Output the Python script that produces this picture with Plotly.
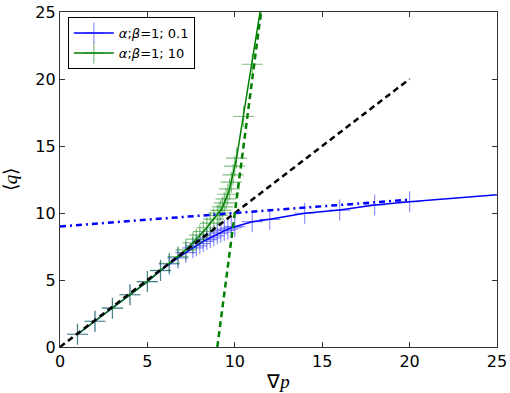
#!/usr/bin/env python3

import plotly.graph_objects as go

OUTPUT_PATH = "out.html"

# series beta = 0.1 (blue)
blue_x = [1, 2, 3, 4, 5, 5.75, 6.25, 6.75, 7.2, 7.6, 7.8, 8.0, 8.2, 8.4, 8.6, 8.8,
          9.0, 9.2, 9.4, 9.6, 9.8, 10, 11, 12, 14, 16, 18, 20, 30]
blue_y = [0.95, 1.92, 2.9, 3.9, 4.88, 5.7, 6.2, 6.65, 7.05, 7.4, 7.55, 7.72, 7.88,
          8.02, 8.15, 8.3, 8.45, 8.57, 8.7, 8.8, 8.9, 8.98, 9.35, 9.53, 9.98,
          10.22, 10.6, 10.84, 11.9]

# series beta = 10 (green)
green_x = [1, 2, 3, 4, 5, 5.75, 6.25, 6.75, 7.2, 7.6, 7.8, 8.0, 8.2, 8.4, 8.6, 8.8,
           9.0, 9.1, 9.2, 9.3, 9.4, 9.5, 9.6, 9.7, 9.8, 9.9, 10.0, 10.1, 10.5,
           11.0, 11.5, 12.0]
green_y = [0.95, 1.92, 2.9, 3.9, 4.88, 5.72, 6.25, 6.74, 7.25, 7.78, 8.05, 8.35,
           8.62, 8.9, 9.25, 9.55, 9.82, 10.0, 10.2, 10.45, 10.75, 11.05, 11.4,
           11.8, 12.3, 12.85, 13.5, 14.1, 17.2, 21.1, 25.2, 29.5]

# reference lines
diag_x = [0, 20]
diag_y = [0, 20]
blue_asym_x = [0, 20]
blue_asym_y = [9, 11]
green_asym_x = [9, 12]
green_asym_y = [0, 30]

ticks = [0, 5, 10, 15, 20, 25]

BLUE = "#0000ff"
GREEN = "#008000"


def series(x, y, color, marker_color, name):
    return go.Scatter(
        x=x, y=y, name=name, mode="lines+markers",
        line=dict(color=color, width=1.5),
        marker=dict(symbol="cross-thin", size=15,
                    line=dict(width=1.2, color=marker_color)),
    )


def ref_line(x, y, color, dash):
    return go.Scatter(
        x=x, y=y, mode="lines", showlegend=False, hoverinfo="skip",
        line=dict(color=color, width=2.5, dash=dash),
    )


fig = go.Figure()
fig.add_trace(series(blue_x, blue_y, BLUE, "rgba(0,0,255,0.45)",
                     "<i>α</i>;<i>β</i>=1; 0.1"))
fig.add_trace(series(green_x, green_y, GREEN, "rgba(0,128,0,0.5)",
                     "<i>α</i>;<i>β</i>=1; 10"))
fig.add_trace(ref_line(diag_x, diag_y, "black", "6px,4px"))
fig.add_trace(ref_line(blue_asym_x, blue_asym_y, BLUE, "6px,4px,2px,4px"))
fig.add_trace(ref_line(green_asym_x, green_asym_y, GREEN, "6px,4px"))

axis_common = dict(
    range=[0, 25], tickvals=ticks, ticks="inside", ticklen=5,
    tickcolor="#333", mirror="allticks", showline=True, linecolor="#333",
    linewidth=1.3, showgrid=False, zeroline=False, automargin=False,
    ticklabeloverflow="allow",
    tickfont=dict(family="DejaVu Sans", size=16, color="black"),
)

fig.update_layout(
    width=510, height=393,
    margin=dict(l=60, r=13, t=12, b=46),
    plot_bgcolor="white", paper_bgcolor="white",
    xaxis=dict(axis_common,
               title=dict(text="∇<i>p</i>", standoff=4,
                          font=dict(family="Liberation Serif", size=19, color="black"))),
    yaxis=dict(axis_common,
               title=dict(text="⟨<i>q</i>⟩", standoff=12,
                          font=dict(family="Liberation Serif", size=19, color="black"))),
    legend=dict(x=0.018, y=0.985, xanchor="left", yanchor="top",
                bgcolor="white", bordercolor="black", borderwidth=1,
                font=dict(family="DejaVu Sans", size=13, color="black"),
                tracegroupgap=0, itemwidth=40),
    showlegend=True,
)

# drop the default page margin so the figure sits at the window corner
fig.write_html(OUTPUT_PATH, config={"displayModeBar": False},
               post_script="document.body.style.margin = '0';")
